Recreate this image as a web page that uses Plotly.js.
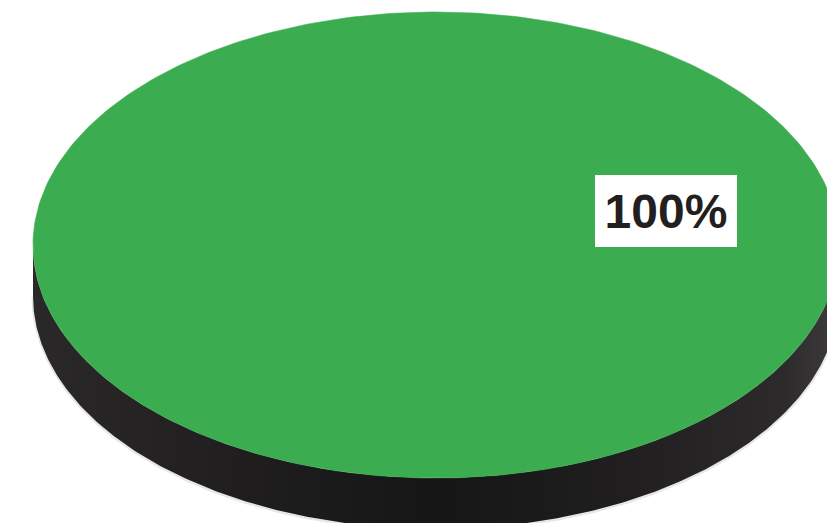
<!DOCTYPE html>
<html>
<head>
<meta charset="utf-8">
<script src="https://cdn.plot.ly/plotly-3.0.1.min.js"></script>
<style>html,body{margin:0;padding:0;background:#fff;overflow:hidden}#chart{width:827px;height:523px}</style>
</head>
<body>
<div id="chart"></div>
<script>
// Data
const categories = ['Share'];
const shares = [100];
const tickLabels = ['100%'];
const sliceColors = ['#3bac4f'];

// Perspective disc geometry
const cx = 436, cy = 245, rx = 403, ry = 233, depth = 51;
const steps = 360;
const total = shares.reduce((a, b) => a + b, 0);

function arc(a0, a1, dy) {
  const xs = [], ys = [];
  for (let i = 0; i <= steps; i++) {
    const a = a0 + (a1 - a0) * i / steps;
    xs.push(cx + rx * Math.cos(a));
    ys.push(cy + dy + ry * Math.sin(a));
  }
  return {xs, ys};
}

// Wall: front half of the lower rim joined to the front half of the upper rim
const low = arc(Math.PI, 0, depth);
const up = arc(0, Math.PI, 0);
const wallX = low.xs.concat(up.xs);
const wallY = low.ys.concat(up.ys);

const shadow = arc(Math.PI, 0, depth + 1);

const traces = [
  {
    x: shadow.xs, y: shadow.ys, mode: 'lines', hoverinfo: 'skip', showlegend: false,
    line: {color: 'rgba(60,60,60,0.12)', width: 3}
  },
  {
    x: wallX, y: wallY, mode: 'lines', fill: 'toself', hoverinfo: 'skip', showlegend: false,
    line: {width: 0},
    fillgradient: {
      type: 'horizontal',
      colorscale: [[0, '#2b2829'], [0.25, '#201e1f'], [0.5, '#161616'], [0.75, '#211f20'], [0.93, '#2c2a2b'], [1, '#3d3b3c']]
    }
  }
];

let start = -Math.PI / 2;
shares.forEach((v, i) => {
  const end = start + 2 * Math.PI * v / total;
  const a = arc(start, end, 0);
  traces.push({
    x: a.xs, y: a.ys, name: categories[i], mode: 'lines', fill: 'toself',
    fillcolor: sliceColors[i], line: {width: 0.6, color: sliceColors[i]},
    hoverinfo: 'skip', showlegend: false
  });
  start = end;
});

const layout = {
  width: 827, height: 523,
  margin: {l: 0, r: 0, t: 0, b: 0, pad: 0},
  paper_bgcolor: '#ffffff', plot_bgcolor: '#ffffff',
  showlegend: false, hovermode: false,
  font: {family: 'Liberation Sans'},
  xaxis: {range: [0, 827], visible: false, fixedrange: true},
  yaxis: {range: [523, 0], visible: false, fixedrange: true},
  annotations: [{
    x: 666, y: 211, xref: 'x', yref: 'y', xanchor: 'center', yanchor: 'middle',
    text: tickLabels[0], showarrow: false,
    width: 142, height: 72, align: 'center', valign: 'middle',
    bgcolor: '#ffffff', borderpad: 0, borderwidth: 0,
    font: {family: 'Liberation Sans', weight: 700, size: 48, color: '#231f20'}
  }]
};

Plotly.newPlot('chart', traces, layout, {displayModeBar: false, staticPlot: true});
</script>
</body>
</html>
